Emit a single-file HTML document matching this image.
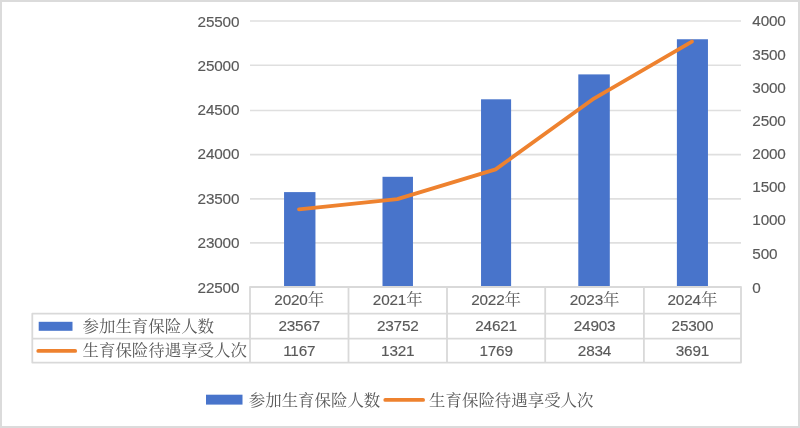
<!DOCTYPE html>
<html lang="zh-CN"><head><meta charset="utf-8"><title>生育保险</title>
<style>
html,body{margin:0;padding:0;background:#fff;}
body{width:800px;height:428px;overflow:hidden;}
svg{display:block;}
.n{font-family:"Liberation Sans","Noto Serif CJK SC",sans-serif;font-size:15.3px;fill:#595959;letter-spacing:-0.17px;stroke:#595959;stroke-width:0.15px;}
.c{font-family:"Liberation Serif","Noto Serif CJK SC",serif;font-size:16.45px;fill:#595959;font-weight:400;}
</style></head><body>
<svg width="800" height="428" viewBox="0 0 800 428">
<rect x="0" y="0" width="800" height="428" fill="#fff"/>
<rect x="1" y="1" width="798" height="426" fill="none" stroke="#DBDBDB" stroke-width="2"/>

<line x1="250.00" y1="21.00" x2="741.00" y2="21.00" stroke="#DFDFDF" stroke-width="1.6"/>
<line x1="250.00" y1="65.30" x2="741.00" y2="65.30" stroke="#DFDFDF" stroke-width="1.6"/>
<line x1="250.00" y1="110.45" x2="741.00" y2="110.45" stroke="#DFDFDF" stroke-width="1.6"/>
<line x1="250.00" y1="154.60" x2="741.00" y2="154.60" stroke="#DFDFDF" stroke-width="1.6"/>
<line x1="250.00" y1="198.90" x2="741.00" y2="198.90" stroke="#DFDFDF" stroke-width="1.6"/>
<line x1="250.00" y1="242.90" x2="741.00" y2="242.90" stroke="#DFDFDF" stroke-width="1.6"/>
<text class="n" x="239.25" y="26.50" text-anchor="end">25500</text>
<text class="n" x="239.25" y="70.50" text-anchor="end">25000</text>
<text class="n" x="239.25" y="114.60" text-anchor="end">24500</text>
<text class="n" x="239.25" y="158.55" text-anchor="end">24000</text>
<text class="n" x="239.25" y="203.50" text-anchor="end">23500</text>
<text class="n" x="239.25" y="247.50" text-anchor="end">23000</text>
<text class="n" x="239.25" y="292.50" text-anchor="end">22500</text>
<text class="n" x="752.3" y="26.10">4000</text>
<text class="n" x="752.3" y="59.50">3500</text>
<text class="n" x="752.3" y="92.50">3000</text>
<text class="n" x="752.3" y="125.50">2500</text>
<text class="n" x="752.3" y="158.50">2000</text>
<text class="n" x="752.3" y="191.75">1500</text>
<text class="n" x="752.3" y="225.25">1000</text>
<text class="n" x="752.3" y="258.50">500</text>
<text class="n" x="752.3" y="292.50">0</text>
<rect x="284.05" y="192.10" width="31.40" height="94.90" fill="#4874CB"/>
<rect x="382.50" y="176.80" width="30.46" height="110.20" fill="#4874CB"/>
<rect x="481.04" y="99.30" width="30.06" height="187.70" fill="#4874CB"/>
<rect x="578.30" y="74.40" width="31.50" height="212.60" fill="#4874CB"/>
<rect x="676.90" y="39.25" width="31.05" height="247.75" fill="#4874CB"/>
<polyline points="299.00,209.39 397.30,199.15 495.60,169.36 593.90,98.54 691.90,41.55" fill="none" stroke="#EE822F" stroke-width="3.8" stroke-linecap="round" stroke-linejoin="round"/>
<path d="M741.00 313.7H32.3V362.6H741.00V287.0H250.00V362.6 M32.3 338.7H741.00 M348.50 287.0V362.6 M447.00 287.0V362.6 M545.20 287.0V362.6 M643.90 287.0V362.6" fill="none" stroke="#D9D9D9" stroke-width="1.8" stroke-linejoin="round"/>
<text x="299.25" y="305.4" text-anchor="middle"><tspan class="n">2020</tspan><tspan class="c">年</tspan></text>
<text class="n" x="299.25" y="331.3" text-anchor="middle">23567</text>
<text class="n" x="299.25" y="356.0" text-anchor="middle">1167</text>
<text x="397.75" y="305.4" text-anchor="middle"><tspan class="n">2021</tspan><tspan class="c">年</tspan></text>
<text class="n" x="397.75" y="331.3" text-anchor="middle">23752</text>
<text class="n" x="397.75" y="356.0" text-anchor="middle">1321</text>
<text x="496.10" y="305.4" text-anchor="middle"><tspan class="n">2022</tspan><tspan class="c">年</tspan></text>
<text class="n" x="496.10" y="331.3" text-anchor="middle">24621</text>
<text class="n" x="496.10" y="356.0" text-anchor="middle">1769</text>
<text x="594.55" y="305.4" text-anchor="middle"><tspan class="n">2023</tspan><tspan class="c">年</tspan></text>
<text class="n" x="594.55" y="331.3" text-anchor="middle">24903</text>
<text class="n" x="594.55" y="356.0" text-anchor="middle">2834</text>
<text x="692.45" y="305.4" text-anchor="middle"><tspan class="n">2024</tspan><tspan class="c">年</tspan></text>
<text class="n" x="692.45" y="331.3" text-anchor="middle">25300</text>
<text class="n" x="692.45" y="356.0" text-anchor="middle">3691</text>
<rect x="38.7" y="321.8" width="33.8" height="9" fill="#4874CB"/>
<line x1="38.3" y1="350.9" x2="75.2" y2="350.9" stroke="#EE822F" stroke-width="3.8" stroke-linecap="round"/>
<text class="c" x="82.5" y="331.9">参加生育保险人数</text>
<text class="c" x="82.5" y="355.8">生育保险待遇享受人次</text>
<rect x="206" y="394.7" width="36.5" height="9.9" fill="#4874CB"/>
<text class="c" x="248.8" y="405.5">参加生育保险人数</text>
<line x1="385.3" y1="399.9" x2="423.1" y2="399.9" stroke="#EE822F" stroke-width="3.8" stroke-linecap="round"/>
<text class="c" x="429.1" y="405.5">生育保险待遇享受人次</text>
</svg></body></html>
